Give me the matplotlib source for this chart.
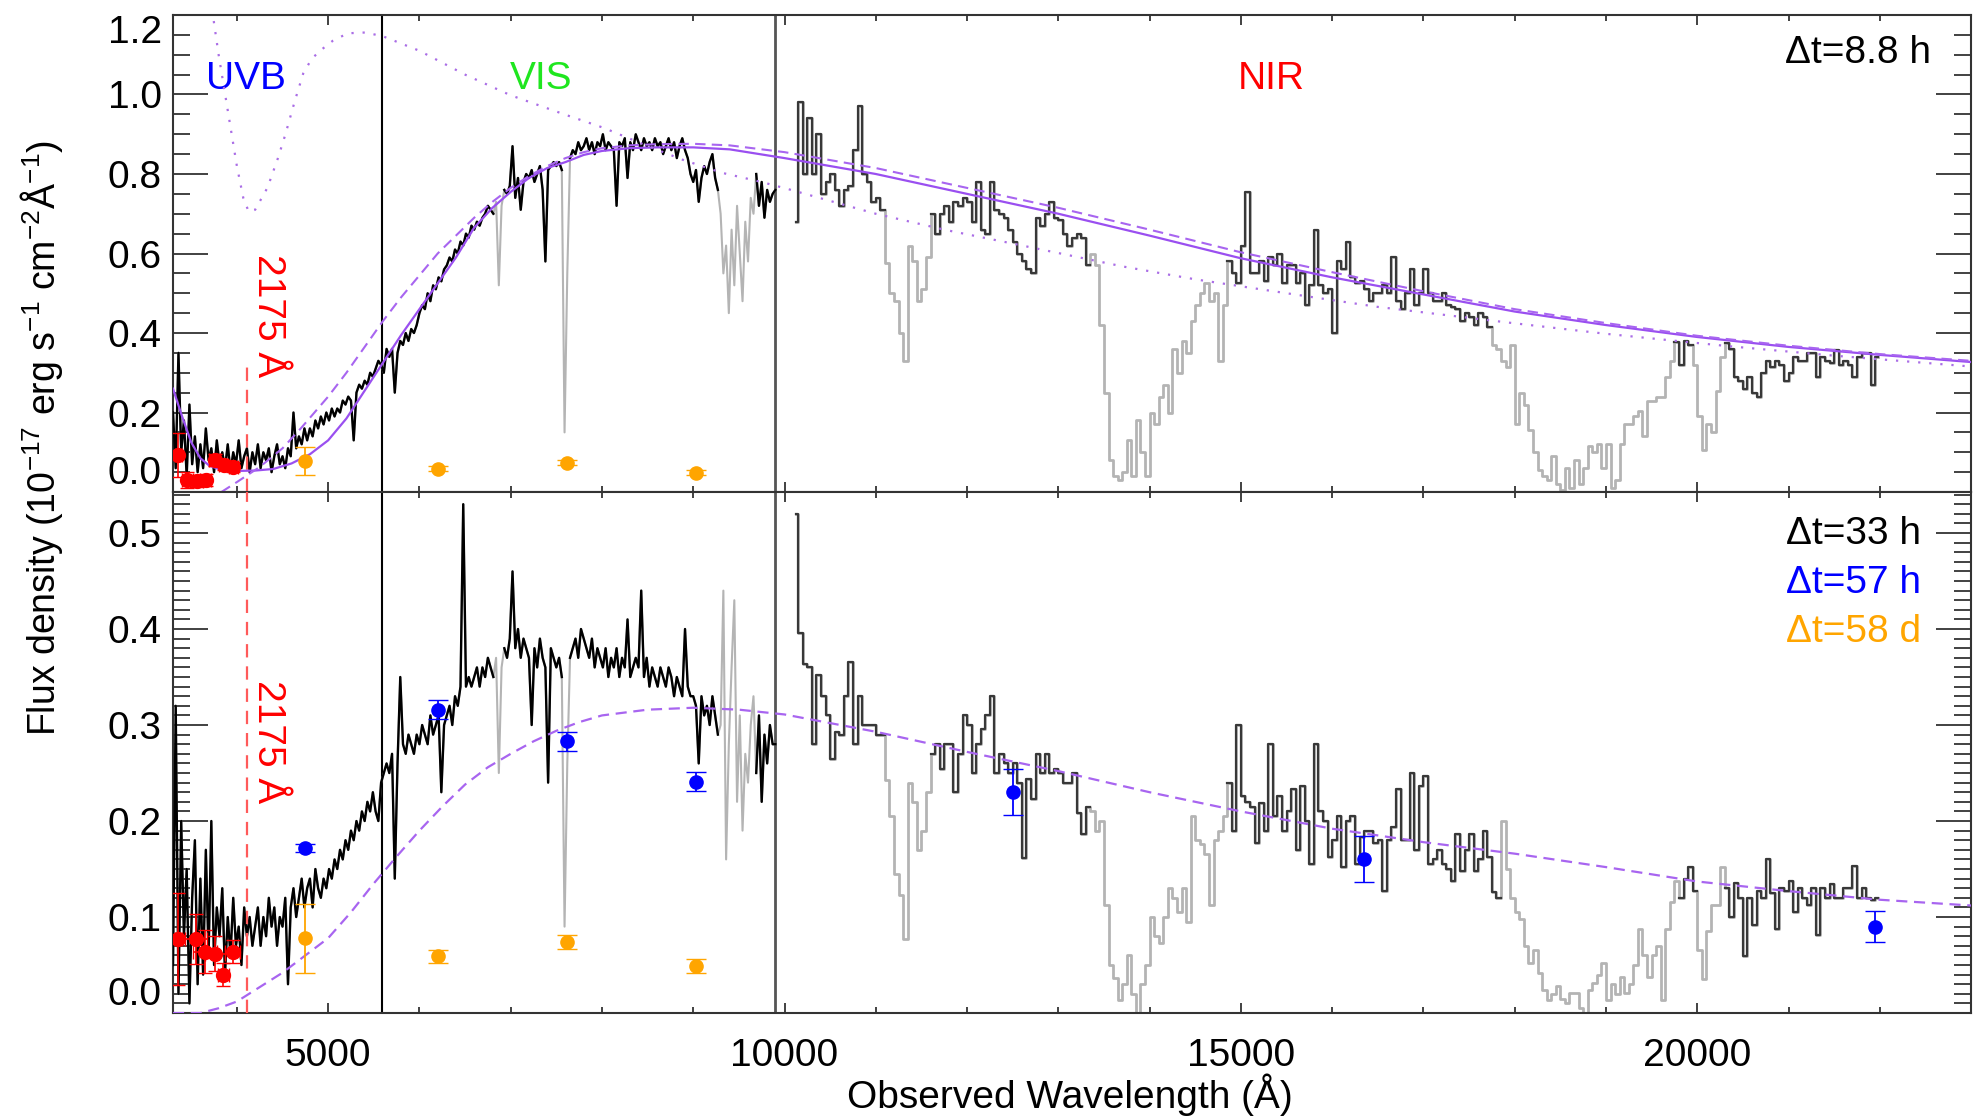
import numpy as np
import matplotlib
matplotlib.use('Agg')
import matplotlib.pyplot as plt
from matplotlib.ticker import MultipleLocator

plt.rcParams['font.family'] = ['Liberation Sans', 'DejaVu Sans']
plt.rcParams['mathtext.fontset'] = 'custom'
plt.rcParams['mathtext.rm'] = 'Liberation Sans'
plt.rcParams['mathtext.it'] = 'Liberation Sans:italic'
plt.rcParams['mathtext.bf'] = 'Liberation Sans:bold'
plt.rcParams['font.size'] = 28

# ---- data ----

# UVB+VIS spectra, sampled every 30 A from 3300 A
vis_start, vis_step = 3300, 30
top_vis_flux = [
    0.20, 0.06, 0.35, 0.10, 0.18, 0.04, 0.22, 0.07, 0.14, 0.05,   # 3300
    0.12, 0.06, 0.16, 0.08, 0.11, 0.05, 0.13, 0.07, 0.10, 0.06,   # 3600
    0.12, 0.05, 0.10, 0.07, 0.13, 0.06, 0.09, 0.11, 0.05, 0.10,   # 3900
    0.07, 0.12, 0.06, 0.10, 0.08, 0.11, 0.05, 0.09, 0.12, 0.07,   # 4200
    0.09, 0.06, 0.11, 0.09, 0.20, 0.11, 0.14, 0.12, 0.16, 0.13,   # 4500
    0.16, 0.14, 0.18, 0.16, 0.19, 0.17, 0.20, 0.18, 0.21, 0.19,   # 4800
    0.21, 0.20, 0.23, 0.22, 0.24, 0.23, 0.13, 0.25, 0.27, 0.26,   # 5100
    0.28, 0.27, 0.30, 0.29, 0.31, 0.33, 0.32, 0.30, 0.36, 0.34,   # 5400
    0.36, 0.25, 0.35, 0.38, 0.37, 0.40, 0.38, 0.41, 0.40, 0.42,   # 5700
    0.45, 0.47, 0.46, 0.50, 0.48, 0.52, 0.51, 0.54, 0.53, 0.56,   # 6000
    0.57, 0.59, 0.58, 0.61, 0.60, 0.63, 0.62, 0.65, 0.64, 0.67,   # 6300
    0.66, 0.68, 0.67, 0.69, 0.70, 0.72, 0.71, 0.70, 0.73, 0.52,   # 6600
    0.72, 0.76, 0.75, 0.77, 0.87, 0.74, 0.79, 0.71, 0.78, 0.80,   # 6900
    0.79, 0.81, 0.78, 0.80, 0.82, 0.76, 0.58, 0.81, 0.82, 0.83,   # 7200
    0.82, 0.83, 0.81, 0.15, 0.55, 0.84, 0.86, 0.85, 0.88, 0.86,   # 7500
    0.87, 0.89, 0.86, 0.88, 0.85, 0.88, 0.87, 0.90, 0.86, 0.88,   # 7800
    0.87, 0.86, 0.72, 0.88, 0.87, 0.89, 0.79, 0.88, 0.86, 0.90,   # 8100
    0.88, 0.86, 0.89, 0.87, 0.88, 0.86, 0.89, 0.87, 0.88, 0.85,   # 8400
    0.87, 0.89, 0.86, 0.88, 0.84, 0.87, 0.89, 0.86, 0.84, 0.80,   # 8700
    0.78, 0.81, 0.73, 0.79, 0.82, 0.80, 0.83, 0.85, 0.79, 0.76,   # 9000
    0.70, 0.55, 0.62, 0.45, 0.66, 0.52, 0.72, 0.60, 0.48, 0.68,   # 9300
    0.58, 0.74, 0.70, 0.80, 0.72, 0.78, 0.69, 0.76, 0.73, 0.75,   # 9600
    0.76]
bot_vis_flux = [
    0.05, 0.32, 0.02, 0.20, 0.08, 0.15, 0.01, 0.12, 0.18, 0.03,   # 3300
    0.14, 0.04, 0.17, 0.06, 0.20, 0.05, 0.11, 0.08, 0.13, 0.04,   # 3600
    0.10, 0.06, 0.12, 0.07, 0.09, 0.05, 0.11, 0.08, 0.10, 0.07,   # 3900
    0.09, 0.11, 0.07, 0.10, 0.08, 0.12, 0.09, 0.11, 0.07, 0.10,   # 4200
    0.09, 0.12, 0.03, 0.11, 0.13, 0.10, 0.12, 0.14, 0.11, 0.13,   # 4500
    0.14, 0.11, 0.15, 0.13, 0.12, 0.14, 0.13, 0.15, 0.14, 0.16,   # 4800
    0.15, 0.17, 0.16, 0.18, 0.17, 0.19, 0.18, 0.20, 0.19, 0.21,   # 5100
    0.20, 0.22, 0.21, 0.23, 0.21, 0.20, 0.24, 0.25, 0.26, 0.25,   # 5400
    0.27, 0.14, 0.26, 0.35, 0.28, 0.27, 0.29, 0.28, 0.27, 0.29,   # 5700
    0.28, 0.30, 0.29, 0.28, 0.31, 0.29, 0.30, 0.31, 0.23, 0.30,   # 6000
    0.31, 0.32, 0.30, 0.33, 0.32, 0.34, 0.53, 0.34, 0.35, 0.34,   # 6300
    0.35, 0.36, 0.34, 0.36, 0.35, 0.37, 0.36, 0.35, 0.37, 0.25,   # 6600
    0.36, 0.38, 0.37, 0.39, 0.46, 0.38, 0.40, 0.37, 0.39, 0.38,   # 6900
    0.37, 0.30, 0.38, 0.36, 0.39, 0.37, 0.36, 0.24, 0.38, 0.37,   # 7200
    0.36, 0.37, 0.35, 0.09, 0.26, 0.37, 0.38, 0.39, 0.37, 0.40,   # 7500
    0.39, 0.38, 0.37, 0.39, 0.36, 0.38, 0.37, 0.36, 0.38, 0.35,   # 7800
    0.37, 0.36, 0.38, 0.35, 0.37, 0.36, 0.41, 0.35, 0.36, 0.37,   # 8100
    0.36, 0.44, 0.35, 0.37, 0.34, 0.36, 0.35, 0.34, 0.36, 0.35,   # 8400
    0.34, 0.36, 0.35, 0.33, 0.35, 0.34, 0.33, 0.40, 0.34, 0.33,   # 8700
    0.33, 0.32, 0.26, 0.33, 0.31, 0.32, 0.30, 0.33, 0.31, 0.29,   # 9000
    0.30, 0.44, 0.16, 0.28, 0.36, 0.43, 0.22, 0.31, 0.19, 0.27,   # 9300
    0.24, 0.30, 0.33, 0.25, 0.31, 0.22, 0.29, 0.26, 0.30, 0.28,   # 9600
    0.28]

# NIR spectra, 50 A bins, first bin centred at 10125 A
nir_start, nir_step = 10125, 50
top_nir_flux = [
    0.68, 0.98, 0.80, 0.94, 0.80, 0.90, 0.75, 0.78, 0.80, 0.76,   # 10100
    0.72, 0.76, 0.77, 0.86, 0.97, 0.80, 0.78, 0.73, 0.74, 0.71,   # 10600
    0.575, 0.50, 0.48, 0.40, 0.33, 0.62, 0.58, 0.48, 0.51, 0.59,  # 11100
    0.70, 0.65, 0.70, 0.72, 0.68, 0.73, 0.72, 0.74, 0.73, 0.68,   # 11600
    0.78, 0.66, 0.65, 0.78, 0.71, 0.70, 0.69, 0.66, 0.63, 0.60,   # 12100
    0.58, 0.56, 0.55, 0.69, 0.67, 0.70, 0.73, 0.69, 0.685, 0.65,  # 12600
    0.62, 0.64, 0.65, 0.64, 0.57, 0.60, 0.57, 0.42, 0.25, 0.08,   # 13100
    0.04, 0.03, 0.05, 0.13, 0.04, 0.18, 0.10, 0.04, 0.20, 0.17,   # 13600
    0.24, 0.27, 0.20, 0.36, 0.30, 0.38, 0.35, 0.43, 0.47, 0.50,   # 14100
    0.525, 0.48, 0.50, 0.33, 0.47, 0.58, 0.55, 0.525, 0.62, 0.755, # 14600
    0.55, 0.55, 0.58, 0.53, 0.59, 0.57, 0.60, 0.525, 0.57, 0.57,  # 15100
    0.525, 0.55, 0.47, 0.52, 0.66, 0.52, 0.50, 0.51, 0.40, 0.58,  # 15600
    0.56, 0.63, 0.54, 0.525, 0.53, 0.51, 0.48, 0.50, 0.50, 0.52,  # 16100
    0.50, 0.59, 0.48, 0.46, 0.50, 0.56, 0.47, 0.50, 0.56, 0.50,   # 16600
    0.48, 0.48, 0.50, 0.47, 0.466, 0.46, 0.43, 0.45, 0.44, 0.42,  # 17100
    0.45, 0.44, 0.416, 0.37, 0.36, 0.33, 0.315, 0.37, 0.17, 0.25, # 17600
    0.22, 0.155, 0.10, 0.055, 0.04, 0.03, 0.09, 0.02, 0.005, 0.06, # 18100
    0.01, 0.08, 0.02, 0.06, 0.115, 0.10, 0.12, 0.06, 0.12, 0.01,  # 18600
    0.03, 0.12, 0.17, 0.17, 0.19, 0.205, 0.14, 0.23, 0.23, 0.24,  # 19100
    0.24, 0.29, 0.33, 0.378, 0.32, 0.38, 0.37, 0.32, 0.19, 0.105, # 19600
    0.17, 0.15, 0.255, 0.34, 0.375, 0.36, 0.29, 0.28, 0.26, 0.29, # 20100
    0.25, 0.24, 0.30, 0.33, 0.315, 0.33, 0.32, 0.28, 0.30, 0.34,  # 20600
    0.33, 0.33, 0.35, 0.35, 0.29, 0.34, 0.33, 0.325, 0.357, 0.32, # 21100
    0.33, 0.32, 0.29, 0.34, 0.35, 0.35, 0.27, 0.34]               # 21600
bot_nir_flux = [
    0.52, 0.396, 0.364, 0.36, 0.28, 0.352, 0.33, 0.31, 0.265, 0.293,  # 10100
    0.29, 0.33, 0.366, 0.28, 0.33, 0.30, 0.30, 0.30, 0.29, 0.29,      # 10600
    0.243, 0.205, 0.145, 0.123, 0.077, 0.24, 0.22, 0.17, 0.19, 0.23,  # 11100
    0.27, 0.28, 0.254, 0.28, 0.28, 0.23, 0.27, 0.31, 0.30, 0.25,      # 11600
    0.28, 0.296, 0.31, 0.33, 0.25, 0.27, 0.26, 0.25, 0.26, 0.24,      # 12100
    0.162, 0.244, 0.223, 0.27, 0.25, 0.27, 0.25, 0.254, 0.25, 0.24,   # 12600
    0.24, 0.25, 0.208, 0.187, 0.215, 0.21, 0.19, 0.20, 0.113, 0.05,   # 13100
    0.036, 0.014, 0.03, 0.06, 0.02, 0.0, 0.03, 0.05, 0.10, 0.08,      # 13600
    0.073, 0.10, 0.13, 0.12, 0.105, 0.13, 0.095, 0.205, 0.18, 0.176,  # 14100
    0.166, 0.113, 0.18, 0.19, 0.205, 0.24, 0.19, 0.30, 0.226, 0.22,   # 14600
    0.215, 0.177, 0.219, 0.19, 0.28, 0.205, 0.226, 0.19, 0.21, 0.233, # 15100
    0.17, 0.236, 0.20, 0.155, 0.28, 0.21, 0.20, 0.163, 0.18, 0.205,   # 15600
    0.152, 0.20, 0.205, 0.155, 0.183, 0.19, 0.19, 0.177, 0.18, 0.127, # 16100
    0.18, 0.194, 0.233, 0.18, 0.18, 0.25, 0.17, 0.236, 0.247, 0.155,  # 16600
    0.16, 0.17, 0.155, 0.15, 0.138, 0.187, 0.148, 0.17, 0.187, 0.148, # 17100
    0.16, 0.19, 0.163, 0.126, 0.12, 0.20, 0.15, 0.12, 0.105, 0.098,   # 17600
    0.07, 0.052, 0.066, 0.042, 0.024, 0.014, 0.02, 0.028, 0.015, 0.01, # 18100
    0.021, 0.021, 0.005, 0.0, 0.024, 0.031, 0.04, 0.052, 0.014, 0.03, # 18600
    0.02, 0.038, 0.021, 0.03, 0.05, 0.088, 0.06, 0.038, 0.06, 0.07,   # 19100
    0.014, 0.088, 0.116, 0.138, 0.12, 0.14, 0.152, 0.127, 0.066, 0.035, # 19600
    0.085, 0.113, 0.113, 0.152, 0.13, 0.10, 0.135, 0.12, 0.059, 0.12, # 20100
    0.092, 0.127, 0.12, 0.16, 0.125, 0.088, 0.13, 0.127, 0.138, 0.105, # 20600
    0.13, 0.12, 0.113, 0.13, 0.081, 0.13, 0.12, 0.134, 0.12, 0.12,    # 21100
    0.13, 0.13, 0.153, 0.12, 0.13, 0.12, 0.118, 0.12]                 # 21600

# telluric regions drawn in light grey
top_vis_gray = [(6840, 6900), (7570, 7640), (9280, 9660)]
bot_vis_gray = [(6840, 6900), (7570, 7640), (9280, 9660)]
top_nir_gray = [(11100, 11600), (13340, 14850), (17750, 19750), (19950, 20300)]
bot_nir_gray = [(11100, 11600), (13350, 14850), (17850, 19800), (20000, 20300)]

# model curves
top_solid_wave = [3300, 3400, 3500, 3600, 3700, 3800, 3900, 4000, 4200, 4400, 4600, 4800,
                  5000, 5200, 5400, 5600, 5800, 6000, 6200, 6400, 6600, 6800, 7000, 7200,
                  7400, 7600, 7800, 8000, 8300, 8600, 9000, 9400, 10000, 11000, 12000,
                  13000, 14000, 15000, 16000, 17000, 18000, 19000, 20000, 21000, 22000, 23000]
top_solid_flux = [0.26, 0.19, 0.125, 0.085, 0.066, 0.058, 0.055, 0.053, 0.054, 0.058, 0.072, 0.095,
                  0.13, 0.185, 0.255, 0.325, 0.395, 0.46, 0.525, 0.59, 0.665, 0.715, 0.755, 0.79,
                  0.815, 0.83, 0.848, 0.858, 0.865, 0.867, 0.867, 0.862, 0.84, 0.80, 0.75,
                  0.70, 0.645, 0.588, 0.54, 0.497, 0.454, 0.42, 0.39, 0.365, 0.345, 0.327]
top_dash_wave = [3700, 3830, 4000, 4250, 4500, 4700, 5000, 5200, 5400, 5600, 5800, 6000, 6200,
                 6400, 6600, 6800, 7000, 7200, 7400, 7600, 7800, 8000, 8300, 8600, 9000, 9400,
                 10000, 11000, 12000, 13000, 14000, 15000, 16000, 17000, 18000, 19000, 20000,
                 21000, 22000, 23000]
top_dash_flux = [-0.03, 0.0, 0.025, 0.063, 0.11, 0.16, 0.24, 0.30, 0.365, 0.43, 0.49, 0.545, 0.60,
                 0.645, 0.69, 0.73, 0.765, 0.795, 0.82, 0.84, 0.855, 0.865, 0.872, 0.875, 0.876, 0.872,
                 0.855, 0.815, 0.765, 0.715, 0.66, 0.603, 0.553, 0.505, 0.46, 0.425, 0.393,
                 0.368, 0.347, 0.33]
top_dot_wave = [3700, 3737, 3800, 3900, 4000, 4070, 4130, 4200, 4336, 4450, 4532, 4630, 4727, 4820,
                4922, 5050, 5215, 5410, 5605, 6000, 6500, 7000, 7588, 8020, 8450, 8883, 9315,
                9747, 10040, 11000, 11770, 12500, 13716, 14500, 15617, 16490, 17977, 19000,
                20338, 21500, 22930, 23000]
top_dot_flux = [1.27, 1.20, 1.10, 0.96, 0.82, 0.74, 0.705, 0.71, 0.766, 0.84, 0.90, 0.98, 1.053, 1.09,
                1.112, 1.135, 1.154, 1.156, 1.146, 1.11, 1.05, 0.998, 0.95, 0.916, 0.875, 0.836, 0.803,
                0.78, 0.762, 0.70, 0.659, 0.625, 0.567, 0.535, 0.496, 0.466, 0.425, 0.398,
                0.367, 0.343, 0.317, 0.316]
bot_dash_wave = [3300, 3600, 3800, 4000, 4250, 4500, 4750, 5000, 5250, 5500, 5750, 6000, 6250,
                 6500, 6750, 7000, 7250, 7500, 7750, 8000, 8500, 9000, 9500, 10000, 11000,
                 12000, 13000, 14000, 15000, 16000, 17000, 18000, 19000, 20000, 21000, 22000, 23000]
bot_dash_flux = [0.0, 0.0, 0.005, 0.012, 0.027, 0.042, 0.06, 0.078, 0.105, 0.135, 0.163, 0.19, 0.215,
                 0.238, 0.256, 0.27, 0.283, 0.294, 0.303, 0.31, 0.316, 0.318, 0.316, 0.311, 0.293,
                 0.272, 0.252, 0.23, 0.21, 0.192, 0.178, 0.166, 0.152, 0.137, 0.127, 0.118, 0.112]

# photometry
top_red_wave = [3358, 3455, 3560, 3660, 3760, 3855, 3960]
top_red_flux = [0.094, 0.030, 0.028, 0.030, 0.080, 0.068, 0.063]
top_red_err = [0.055, 0.020, 0.015, 0.015, 0.015, 0.012, 0.012]
top_red_werr = [40, 60, 70, 60, 60, 50, 50]
bot_red_wave = [3358, 3551, 3650, 3760, 3850, 3953]
bot_red_flux = [0.077, 0.077, 0.064, 0.062, 0.040, 0.064]
bot_red_err = [0.048, 0.026, 0.022, 0.018, 0.012, 0.012]
bot_red_werr = [40, 120, 130, 110, 60, 80]
host_wave = [4745, 6205, 7618, 9026]          # dt = 58 d
host_flux = [0.078, 0.059, 0.074, 0.049]
host_err = [0.036, 0.007, 0.007, 0.007]
late_wave = [4745, 6205, 7618, 9026, 12500, 16350, 21950]   # dt = 57 h
late_flux = [0.172, 0.316, 0.283, 0.241, 0.230, 0.160, 0.090]
late_err = [0.004, 0.010, 0.010, 0.010, 0.024, 0.024, 0.016]

arm_edges = [5590, 9900]
z = 0.89
bump_obs = 2175 * (1 + z)

top_yticks = [0.0, 0.2, 0.4, 0.6, 0.8, 1.0, 1.2]
bot_yticks = [0.0, 0.1, 0.2, 0.3, 0.4, 0.5]

purple = '#9a4ff0'
purple_l = '#a865f0'
purple_d = '#aa6ee6'
gray = '#b4b4b4'


def masked(wave, flux, bands):
    f = np.array(flux, dtype=float)
    for lo, hi in bands:
        f[(wave >= lo) & (wave <= hi)] = np.nan
    return f


fig = plt.figure(figsize=(19.77, 11.19), dpi=100)
top = fig.add_axes([0.0875, 0.5603, 0.9095, 0.4263])
bot = fig.add_axes([0.0875, 0.0947, 0.9095, 0.4656])

for ax, vis, nir, vgray, ngray in [(top, top_vis_flux, top_nir_flux, top_vis_gray, top_nir_gray),
                                   (bot, bot_vis_flux, bot_nir_flux, bot_vis_gray, bot_nir_gray)]:
    vw = vis_start + vis_step * np.arange(len(vis))
    nw = nir_start + nir_step * np.arange(len(nir))
    ax.plot(vw, vis, color=gray, lw=1.5, zorder=2)
    ax.plot(vw, masked(vw, vis, vgray), color='k', lw=1.7, zorder=3)
    ax.step(nw, nir, where='mid', color=gray, lw=2.0, zorder=2)
    ax.step(nw, masked(nw, nir, ngray), where='mid', color='#383838', lw=1.6, zorder=3)
    ax.axvline(arm_edges[0], color='k', lw=1.5, zorder=1)
    ax.axvline(arm_edges[1], color='#555555', lw=2.0, zorder=1)

# models
top.plot(top_solid_wave, top_solid_flux, color=purple, lw=1.6, zorder=4)
top.plot(top_dash_wave, top_dash_flux, color=purple_l, lw=1.5, dashes=(5, 3), zorder=4)
top.plot(top_dot_wave, top_dot_flux, color=purple_d, lw=1.6, dashes=(1, 4), zorder=4)
bot.plot(bot_dash_wave, bot_dash_flux, color=purple_l, lw=1.6, dashes=(5, 3), zorder=4)

# 2175 A bump
top.vlines(bump_obs, 0, min(top_dot_flux), color='#ff5a5a', lw=1.6, linestyles=(0, (6, 4)), zorder=3)
bot.axvline(bump_obs, color='#ff5a5a', lw=1.6, linestyle=(0, (6, 4)), zorder=3)
top.text(4345, 0.445, '2175 Å', color='red', rotation=-90, ha='center', va='center')
bot.text(4345, 0.283, '2175 Å', color='red', rotation=-90, ha='center', va='center')

# photometry points
top.errorbar(top_red_wave, top_red_flux, yerr=top_red_err, xerr=top_red_werr, fmt='o', color='red',
             ms=10, elinewidth=1.2, capsize=5, zorder=5)
bot.errorbar(bot_red_wave, bot_red_flux, yerr=bot_red_err, xerr=bot_red_werr, fmt='o', color='red',
             ms=10, elinewidth=1.2, capsize=5, zorder=5)
for ax in (top, bot):
    ax.errorbar(host_wave, host_flux, yerr=host_err, fmt='o', color='orange', ms=9.5,
                elinewidth=1.3, capsize=7, zorder=5)
bot.errorbar(late_wave, late_flux, yerr=late_err, fmt='o', color='blue', ms=9.5,
             elinewidth=1.3, capsize=7, zorder=5)

# labels inside panels
top.text(4100, 1.04, 'UVB', color='blue', ha='center', va='center')
top.text(7330, 1.04, 'VIS', color='#1fe61f', ha='center', va='center')
top.text(15330, 1.04, 'NIR', color='red', ha='center', va='center')
top.text(22560, 1.105, 'Δt=8.8 h', color='k', ha='right', va='center')
bot.text(22450, 0.499, 'Δt=33 h', color='k', ha='right', va='center')
bot.text(22450, 0.448, 'Δt=57 h', color='blue', ha='right', va='center')
bot.text(22450, 0.397, 'Δt=58 d', color='orange', ha='right', va='center')

# axes
top.set_ylim(0, 1.2)
bot.set_ylim(0, 0.5427)
top.set_yticks(top_yticks)
top.set_yticklabels(['%.1f' % v for v in top_yticks])
top.yaxis.set_minor_locator(MultipleLocator(0.05))
bot.set_yticks(bot_yticks)
bot.set_yticklabels(['%.1f' % v for v in bot_yticks])
bot.yaxis.set_minor_locator(MultipleLocator(0.01))
for ax in (top, bot):
    ax.set_xlim(3300, 23000)
    ax.set_xticks([5000, 10000, 15000, 20000])
    ax.xaxis.set_minor_locator(MultipleLocator(1000))
    ax.tick_params(which='both', direction='in', top=True, right=True, color='#333333', width=1.3)
    ax.tick_params(axis='y', which='major', length=25, pad=8)
    ax.tick_params(axis='y', which='minor', length=12)
    ax.tick_params(axis='x', which='major', length=7, pad=18)
    ax.tick_params(axis='x', which='minor', length=4)
    for s in ax.spines.values():
        s.set_color('#333333')
        s.set_linewidth(1.5)
top.tick_params(axis='x', labelbottom=False)

# keep the end labels inside the panel, as in the original
for t in top.yaxis.get_major_ticks():
    if t.label1.get_text() == '0.0':
        t.label1.set_va('bottom')
    if t.label1.get_text() == '1.2':
        t.label1.set_va('top')
for t in bot.yaxis.get_major_ticks():
    if t.label1.get_text() == '0.0':
        t.label1.set_va('bottom')

fig.text(0.021, 0.609, 'Flux density (10$^{-17}$ erg s$^{-1}$ cm$^{-2}$Å$^{-1}$)',
         rotation=90, ha='center', va='center', fontsize=27)
fig.text(0.541, 0.022, 'Observed Wavelength (Å)', ha='center', va='center')

fig.savefig('out.png', dpi=100)
